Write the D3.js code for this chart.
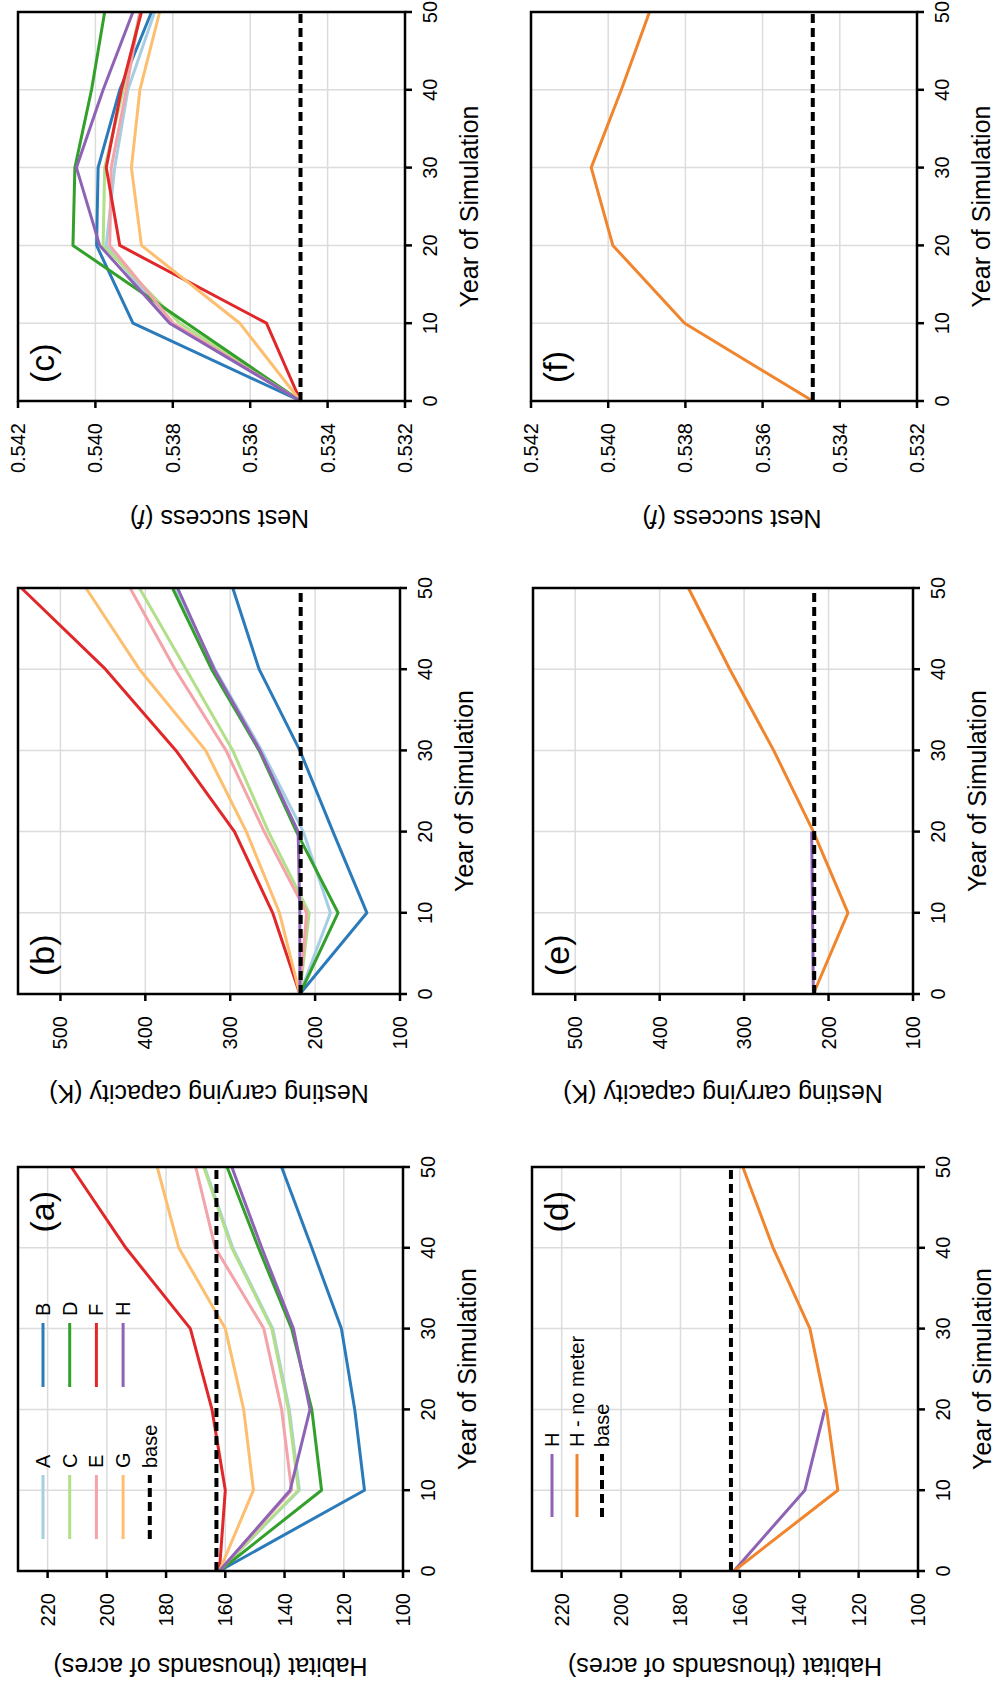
<!DOCTYPE html>
<html>
<head>
<meta charset="utf-8">
<script src="https://cdn.jsdelivr.net/npm/d3@7"></script>
<style>
    html, body { margin: 0; padding: 0; background: #fff; }
    svg { display: block; font-family: "Liberation Sans", Arial, Helvetica, sans-serif; }
</style>
</head>
<body>
<svg id="fig" width="995" height="1694"></svg>
<script>
// data (every 10 years)
const years = [0, 10, 20, 30, 40, 50];
const meterYears = [0, 10, 20];
const scenarios = ['A', 'B', 'C', 'D', 'E', 'F', 'G', 'H'];
const scenarioColors = ['#a6cee3', '#2b7bba', '#b2df8a', '#33a02c', '#f4a3a8', '#e0282a', '#fdbf6f', '#8e63b5'];
const noMeterColor = '#f0852d';

// habitat, thousands of acres (A..H)
const habitat = [
    [162, 135.0, 138.4, 144.0, 157.5, 167.0],
    [162, 113.0, 116.3, 120.8, 130.8, 141.0],
    [162, 135.3, 138.7, 144.3, 157.8, 167.3],
    [162, 127.5, 130.8, 137.6, 148.8, 159.4],
    [162, 137.6, 141.0, 147.0, 163.4, 170.0],
    [162, 160.0, 164.5, 171.8, 193.6, 212.0],
    [162, 150.5, 153.8, 160.0, 175.7, 183.0],
    [162, 138.1, 131.4, 137.0, 147.7, 157.8]
];
const habitatBase = 163;
const habitatH = [162, 138.1, 131.4];
const habitatNoMeter = [162, 127.0, 130.8, 136.4, 148.8, 159.0];

// nesting carrying capacity K (A..H)
const capacity = [
    [218, 182, 214, 263, 318, 364],
    [218, 139, 179, 218, 266, 297],
    [218, 207, 255, 297, 352, 407],
    [218, 173, 222, 266, 322, 368],
    [218, 210, 260, 305, 365, 418],
    [218, 250, 295, 364, 447, 546],
    [218, 242, 281, 329, 407, 470],
    [218, 218, 220, 265, 319, 362]
];
const capacityBase = 217;
const capacityH = [218, 219, 220];
const capacityNoMeter = [218, 177, 218, 265, 317, 366];

// nest success f (A..H)
const nestSuccess = [
    [0.5347, 0.53808, 0.53972, 0.53950, 0.53916, 0.53847],
    [0.5347, 0.53903, 0.53997, 0.53993, 0.53937, 0.53855],
    [0.5347, 0.53782, 0.53980, 0.53976, 0.53928, 0.53885],
    [0.5347, 0.53764, 0.54058, 0.54053, 0.54010, 0.53976],
    [0.5347, 0.53799, 0.53963, 0.53959, 0.53920, 0.53885],
    [0.5347, 0.53558, 0.53937, 0.53972, 0.53933, 0.53881],
    [0.5347, 0.53627, 0.53881, 0.53907, 0.53885, 0.53834],
    [0.5347, 0.53808, 0.53989, 0.54049, 0.53980, 0.53903]
];
const nestBase = 0.5347;
const nestNoMeter = [0.5347, 0.53802, 0.53988, 0.54044, 0.53966, 0.53893];

const yearTicks = [0, 10, 20, 30, 40, 50];
const habitatTicks = [100, 120, 140, 160, 180, 200, 220];
const capacityTicks = [100, 200, 300, 400, 500];
const nestTicks = [0.532, 0.534, 0.536, 0.538, 0.540, 0.542];

// the figure is drawn landscape (1694 x 995) and turned a quarter turn
const svg = d3.select('#fig');
const fig = svg.append('g').attr('transform', 'translate(0,1694) rotate(-90)');

const allSeries = (values) => values.map((v, i) => ({ xs: years, ys: v, color: scenarioColors[i] }));

function drawPanel(p) {
    const g = fig.append('g');
    const x = d3.scaleLinear().domain([0, 50]).range([p.x0, p.x1]);
    const y = d3.scaleLinear().domain(p.domain).range([p.bottom, p.top]);

    // grid
    g.selectAll('.gx').data(yearTicks.slice(1, -1)).enter().append('line')
        .attr('x1', d => x(d)).attr('x2', d => x(d))
        .attr('y1', p.top).attr('y2', p.bottom)
        .attr('stroke', '#dcdcdc').attr('stroke-width', 1.5);
    g.selectAll('.gy').data(p.ticks).enter().append('line')
        .attr('x1', p.x0).attr('x2', p.x1)
        .attr('y1', d => y(d)).attr('y2', d => y(d))
        .attr('stroke', '#dcdcdc').attr('stroke-width', 1.5);

    const line = d3.line().x(d => x(d[0])).y(d => y(d[1]));
    p.series.forEach(s => {
        g.append('path')
            .attr('d', line(s.xs.map((t, i) => [t, s.ys[i]])))
            .attr('fill', 'none')
            .attr('stroke', s.color)
            .attr('stroke-width', 3)
            .attr('stroke-linejoin', 'round');
    });

    // base run
    g.append('path')
        .attr('d', line([[0, p.base], [50, p.base]]))
        .attr('stroke', '#000').attr('stroke-width', 4)
        .attr('stroke-dasharray', '9,5');

    // frame
    g.append('rect')
        .attr('x', p.x0).attr('y', p.top)
        .attr('width', p.x1 - p.x0).attr('height', p.bottom - p.top)
        .attr('fill', 'none').attr('stroke', '#000').attr('stroke-width', 2.5);

    // x axis
    g.selectAll('.tx').data(yearTicks).enter().append('line')
        .attr('x1', d => x(d)).attr('x2', d => x(d))
        .attr('y1', p.bottom).attr('y2', p.bottom + 7)
        .attr('stroke', '#000').attr('stroke-width', 2.5);
    g.selectAll('.lx').data(yearTicks).enter().append('text')
        .attr('x', d => x(d)).attr('y', p.bottom + 32)
        .attr('text-anchor', 'middle').attr('font-size', 20)
        .text(d => d);
    g.append('text')
        .attr('x', (p.x0 + p.x1) / 2).attr('y', p.bottom + 73)
        .attr('text-anchor', 'middle').attr('font-size', 25)
        .text('Year of Simulation');

    // y axis
    g.selectAll('.ty').data(p.ticks).enter().append('line')
        .attr('x1', p.x0).attr('x2', p.x0 - 7)
        .attr('y1', d => y(d)).attr('y2', d => y(d))
        .attr('stroke', '#000').attr('stroke-width', 2.5);
    g.selectAll('.ly').data(p.ticks).enter().append('text')
        .attr('x', p.x0 - 22).attr('y', d => y(d))
        .attr('dy', '0.35em')
        .attr('text-anchor', 'end').attr('font-size', 20)
        .text(p.fmt);
    const ty = (p.top + p.bottom) / 2 + (p.titleShift || 0);
    const title = g.append('text')
        .attr('transform', `translate(${p.x0 - p.titleOff},${ty}) rotate(-90)`)
        .attr('dy', '0.35em')
        .attr('text-anchor', 'middle').attr('font-size', 25);
    p.title.forEach(part => {
        title.append('tspan').attr('font-style', part.italic ? 'italic' : null).text(part.t);
    });

    // panel letter
    g.append('text')
        .attr('x', p.letterLeft ? p.x0 + 18 : p.x1 - 24)
        .attr('y', p.top + 36)
        .attr('text-anchor', p.letterLeft ? 'start' : 'end')
        .attr('font-size', 34)
        .text(p.letter);

    return { g, x, y };
}

function drawLegend(g, items, top, step, lineX0, lineX1) {
    items.forEach((it, i) => {
        const yy = top + i * step;
        g.append('line')
            .attr('x1', lineX0).attr('x2', lineX1)
            .attr('y1', yy).attr('y2', yy)
            .attr('stroke', it.color)
            .attr('stroke-width', it.dashed ? 4 : 3)
            .attr('stroke-dasharray', it.dashed ? '9,5' : null);
        g.append('text')
            .attr('x', lineX1 + 7).attr('y', yy)
            .attr('dy', '0.35em').attr('font-size', 20)
            .text(it.label);
    });
}

const habitatTitle = [{ t: 'Habitat (thousands of acres)' }];
const capacityTitle = [{ t: 'Nesting carrying capacity (K)' }];
const nestTitle = [{ t: 'Nest success (' }, { t: 'f', italic: true }, { t: ')' }];
const fmtInt = d3.format('d');
const fmtNest = d3.format('.3f');

// top row of the landscape figure
const pa = drawPanel({
    x0: 123, x1: 527, top: 18, bottom: 403, domain: [100, 230], ticks: habitatTicks, fmt: fmtInt,
    title: habitatTitle, titleOff: 96, letter: '(a)', letterLeft: false,
    series: allSeries(habitat), base: habitatBase
});
drawLegend(pa.g, [0, 2, 4, 6].map(i => ({ label: scenarios[i], color: scenarioColors[i] }))
    .concat([{ label: 'base', color: '#000', dashed: true }]), 43, 26.7, 155, 219);
drawLegend(pa.g, [1, 3, 5, 7].map(i => ({ label: scenarios[i], color: scenarioColors[i] })), 43, 26.7, 307, 371);

drawPanel({
    x0: 700, x1: 1106, top: 18, bottom: 400, domain: [100, 550], ticks: capacityTicks, fmt: fmtInt,
    title: capacityTitle, titleOff: 100, letter: '(b)', letterLeft: true,
    series: allSeries(capacity), base: capacityBase
});

drawPanel({
    x0: 1293, x1: 1682, top: 18, bottom: 405, domain: [0.532, 0.542], ticks: nestTicks, fmt: fmtNest,
    title: nestTitle, titleOff: 118, titleShift: 8, letter: '(c)', letterLeft: true,
    series: allSeries(nestSuccess), base: nestBase
});

// bottom row: H with and without metering
const pd = drawPanel({
    x0: 123, x1: 527, top: 532, bottom: 918, domain: [100, 230], ticks: habitatTicks, fmt: fmtInt,
    title: habitatTitle, titleOff: 96, letter: '(d)', letterLeft: false,
    series: [
        { xs: meterYears, ys: habitatH, color: scenarioColors[7] },
        { xs: years, ys: habitatNoMeter, color: noMeterColor }
    ],
    base: habitatBase
});
drawLegend(pd.g, [
    { label: 'H', color: scenarioColors[7] },
    { label: 'H - no meter', color: noMeterColor },
    { label: 'base', color: '#000', dashed: true }
], 552, 25, 177, 240);

drawPanel({
    x0: 700, x1: 1106, top: 533, bottom: 913, domain: [100, 550], ticks: capacityTicks, fmt: fmtInt,
    title: capacityTitle, titleOff: 100, letter: '(e)', letterLeft: true,
    series: [
        { xs: meterYears, ys: capacityH, color: scenarioColors[7] },
        { xs: years, ys: capacityNoMeter, color: noMeterColor }
    ],
    base: capacityBase
});

drawPanel({
    x0: 1293, x1: 1682, top: 531, bottom: 917, domain: [0.532, 0.542], ticks: nestTicks, fmt: fmtNest,
    title: nestTitle, titleOff: 118, titleShift: 8, letter: '(f)', letterLeft: true,
    series: [{ xs: years, ys: nestNoMeter, color: noMeterColor }],
    base: nestBase
});
</script>
</body>
</html>
